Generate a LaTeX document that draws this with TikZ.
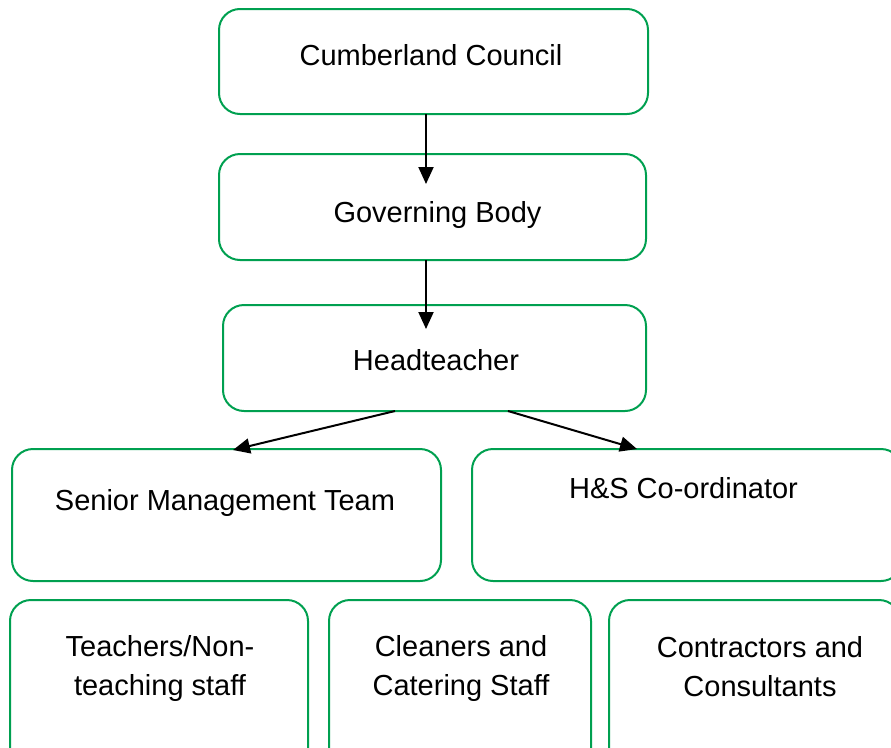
\documentclass[tikz,border=0pt]{standalone}
\usepackage{fontspec}
\setmainfont{Liberation Sans}
\usetikzlibrary{arrows.meta}
\definecolor{boxgreen}{RGB}{0,160,80}

\begin{document}
\begin{tikzpicture}[
  x = 1pt,
  y = -1pt,
  box/.style = {
    shape = rectangle,
    draw = boxgreen,
    line width = 2pt,
    rounded corners = 21pt,
    inner sep = 0pt,
    outer sep = 0pt,
  },
  txt/.style = {
    anchor = base,
    align = center,
    inner sep = 0pt,
    font = \fontsize{29}{39}\selectfont,
  },
  arr/.style = {
    line width = 2pt,
    -{Triangle[length = 17pt, width = 15pt]}
  }
]
  \useasboundingbox (0, 0) rectangle (891, 747);
  \clip (0, 0) rectangle (891, 747);

  \node[box, minimum width = 429pt, minimum height = 105pt] (cc) at (433.5, 61.5) {};
  \node[box, minimum width = 427pt, minimum height = 106pt] (gb) at (432.5, 207) {};
  \node[box, minimum width = 423pt, minimum height = 106pt] (ht) at (434.5, 358) {};
  \node[box, minimum width = 429pt, minimum height = 132pt] (smt) at (226.5, 515) {};
  \node[box, minimum width = 430pt, minimum height = 132pt] (hs) at (687, 515) {};
  \node[box, minimum width = 298pt, minimum height = 175pt] (staff) at (159, 687.5) {};
  \node[box, minimum width = 262pt, minimum height = 175pt] (clean) at (460, 687.5) {};
  \node[box, minimum width = 291pt, minimum height = 175pt] (contr) at (754.5, 687.5) {};

  \node[txt] (cctxt) at (431, 65) {Cumberland Council};
  \node[txt] (gbtxt) at (437.5, 222) {Governing Body};
  \node[txt] (httxt) at (436, 370) {Headteacher};
  \node[txt] (smttxt) at (225, 510) {Senior Management Team};
  \node[txt] (hstxt) at (683.5, 498) {H\&S Co-ordinator};
  \node[txt] (stafftxt) at (160, 695) {Teachers/Non-\\teaching staff};
  \node[txt] (cleantxt) at (461, 695) {Cleaners and\\Catering Staff};
  \node[txt] (contrtxt) at (760, 696) {Contractors and\\Consultants};

  \coordinate (s1) at (426, 114);
  \coordinate (t1) at (426, 184);
  \coordinate (s2) at (426, 260);
  \coordinate (t2) at (426, 329);
  \coordinate (s3) at (395, 411);
  \coordinate (t3) at (233, 450);
  \coordinate (s4) at (508, 411);
  \coordinate (t4) at (637, 449);

  \draw[arr] (cc.south -| s1) -- (t1);
  \draw[arr] (gb.south -| s2) -- (t2);
  \draw[arr] (ht.south -| s3) -- (t3);
  \draw[arr] (ht.south -| s4) -- (t4);
\end{tikzpicture}
\end{document}
